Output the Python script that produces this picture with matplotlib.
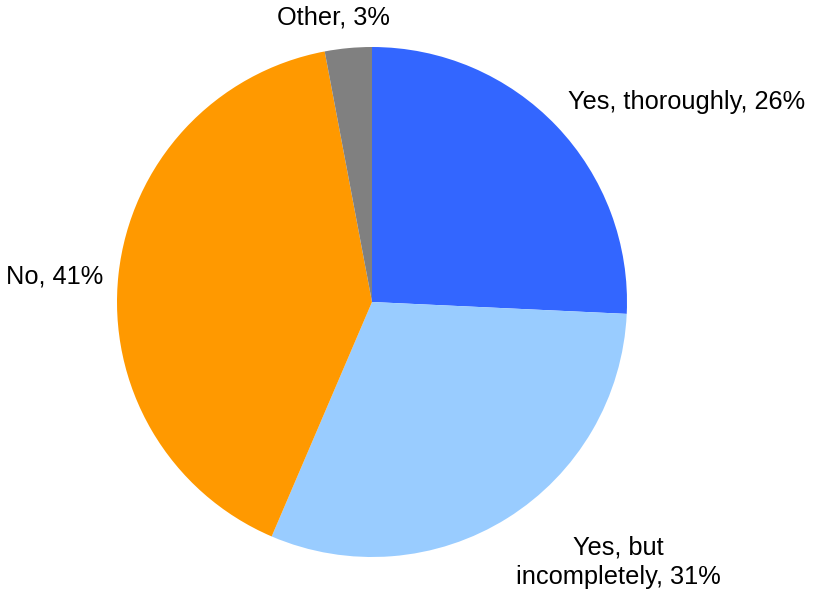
import matplotlib.pyplot as plt

labels = ['Yes, thoroughly, 26%', 'Yes, but\nincompletely, 31%', 'No, 41%', 'Other, 3%']
values = [26, 31, 41, 3]
colors = ['#3366FF', '#99CCFF', '#FF9900', '#808080']

# label anchor points, in units of the pie radius
label_pos = [(0.768, 0.785), (0.965, -1.02), (-1.055, 0.1), (-0.15, 1.115)]
label_ha = ['left', 'center', 'right', 'center']

plt.rcParams['font.family'] = ['Liberation Sans', 'DejaVu Sans']

fig = plt.figure(figsize=(8.19, 5.96), dpi=100)
ax = fig.add_axes([0, 0, 1, 1])

wedges, texts = ax.pie(values, colors=colors, startangle=90, counterclock=False,
                       labels=labels, radius=1.0,
                       wedgeprops=dict(linewidth=0))

for t, (x, y), ha in zip(texts, label_pos, label_ha):
    t.set_position((x, y))
    t.set_ha(ha)
    t.set_va('center')
    t.set_multialignment('center')
    t.set_fontsize(18.3)
    t.set_linespacing(1.3)

r = 255.0
ax.set_xlim(-372 / r, (819 - 372) / r)
ax.set_ylim(-(596 - 302) / r, 302 / r)
ax.set_aspect('auto')
ax.axis('off')

plt.savefig('out.png', dpi=100)
